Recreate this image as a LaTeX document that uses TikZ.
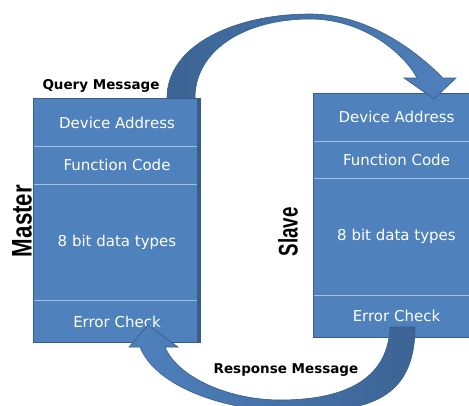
\documentclass[tikz,border=0pt]{standalone}
\usepackage{fontspec}
\setmainfont{DejaVu Sans}
\newfontfamily\labelfont{Liberation Sans}
\usetikzlibrary{positioning}
\definecolor{boxblue}{HTML}{4F81BD}
\definecolor{edgeblue}{HTML}{385D8A}
\definecolor{lineblue}{HTML}{A7BFDE}
\definecolor{darkblue}{HTML}{3C6494}

\begin{document}
\begin{tikzpicture}[x = 1pt, y = -1pt, node distance = 0pt,
        cell/.style = {fill = boxblue, text = white, minimum width = 166pt, inner sep = 0pt,
            font = \fontsize{15}{18}\selectfont},
        divider/.style = {draw = lineblue, line width = 1pt},
        boxedge/.style = {draw = edgeblue, line width = 1pt},
        blockarrow/.style = {draw = edgeblue, line width = 0.6pt},
        msg/.style = {inner sep = 0pt, font = \fontsize{13.5}{16}\selectfont\bfseries},
        side/.style = {rotate = 90, inner sep = 0pt}]
    \clip (0,0) rectangle (469,405);
    \fill[white] (0,0) rectangle (469,405);
    % master frame
    \node[cell, minimum height = 47.5pt, anchor = north] (mda) at (117,98.7) {Device Address};
    \node[cell, minimum height = 37pt, below = of mda] (mfc) {Function Code};
    \node[cell, minimum height = 116pt, below = of mfc] (mdt) {8 bit data types};
    \node[cell, minimum height = 42pt, below = of mdt] (mec) {Error Check};
    \draw[divider] (mda.south west) -- (mda.south east);
    \draw[divider] (mfc.south west) -- (mfc.south east);
    \draw[divider] (mdt.south west) -- (mdt.south east);
    \draw[boxedge] (mda.north west) rectangle (mec.south east);
    \draw[boxedge, line width = 3pt] ([xshift = -1.5pt]mda.north east) -- ([xshift = -1.5pt]mec.south east);
    % slave frame
    \node[cell, minimum height = 47.5pt, anchor = north] (sda) at (396.5,93.3) {Device Address};
    \node[cell, minimum height = 37pt, below = of sda] (sfc) {Function Code};
    \node[cell, minimum height = 116pt, below = of sfc] (sdt) {8 bit data types};
    \node[cell, minimum height = 42pt, below = of sdt] (sec) {Error Check};
    \draw[divider] (sda.south west) -- (sda.south east);
    \draw[divider] (sfc.south west) -- (sfc.south east);
    \draw[divider] (sdt.south west) -- (sdt.south east);
    \draw[boxedge] (sda.north west) rectangle (sec.south east);
    % query arrow
    \draw[blockarrow, left color = darkblue, right color = boxblue]
        (167,98) .. controls (167,45) and (235,14) .. (310,14)
        .. controls (375,14) and (425,60) .. (443,78)
        -- (456,78) -- (434,99) -- (404,78) -- (417,78)
        .. controls (405,55) and (365,19) .. (310,19)
        .. controls (245,19) and (195,50) .. (195,98) -- cycle;
    % response arrow
    \draw[blockarrow, left color = boxblue, right color = darkblue]
        (390,327) -- (415,327)
        .. controls (415,405) and (360,413) .. (285,411)
        .. controls (220,410) and (155,385) .. (140,347)
        -- (129,347) -- (148,325) -- (178,347) -- (165,347)
        .. controls (178,378) and (230,400) .. (280,400)
        .. controls (335,400) and (388,385) .. (390,327) -- cycle;
    % labels
    \node[msg] (query) at (101,86) {Query Message};
    \node[msg] (response) at (286,370) {Response Message};
    \node[side] (master) at (22,221) {\resizebox{72pt}{19.5pt}{\labelfont\bfseries Master}};
    \node[side] (slave) at (288,232) {\resizebox{49pt}{19.5pt}{\labelfont\bfseries Slave}};
\end{tikzpicture}
\end{document}
